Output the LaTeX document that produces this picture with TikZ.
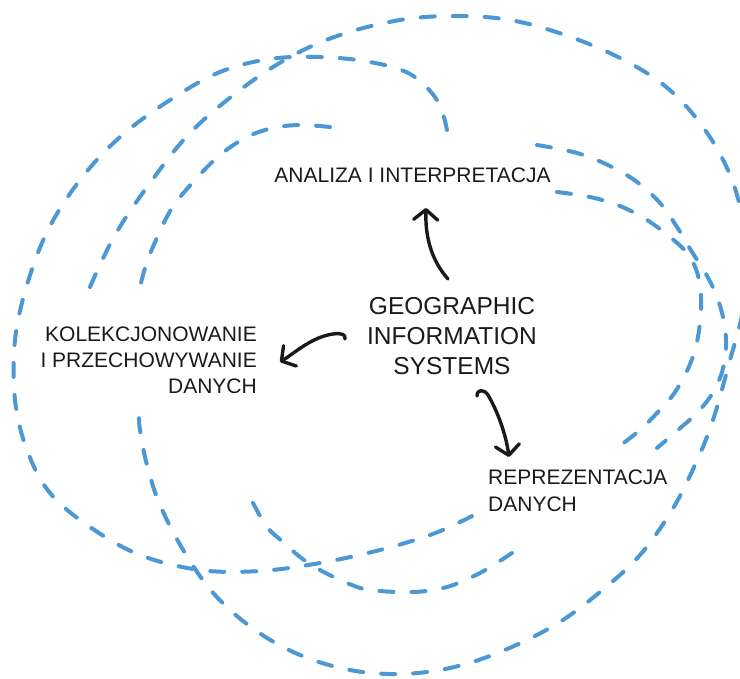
\documentclass[tikz,border=0pt]{standalone}
\usepackage{fontspec}
\setmainfont{Liberation Sans}
\usetikzlibrary{arrows.meta}
\definecolor{loopblue}{RGB}{76,152,212}
\definecolor{ink}{RGB}{26,26,26}
\begin{document}
\begin{tikzpicture}[x=1pt,y=-1pt,
  loopline/.style={draw=loopblue, line width=4pt, dash pattern=on 14pt off 18pt, line cap=round},
  lbl/.style={inner sep=0pt, text=ink, font=\fontsize{21}{26}\selectfont},
  conn/.style={draw=ink, line width=3.4pt, line cap=round, line join=round,
    -{Straight Barb[length=10pt,width=24pt,line cap=round,line join=round]}}]
\useasboundingbox (0,0) rectangle (740,679);
\begin{scope}
\clip (0,0) rectangle (740,679);
% big loop, top-left start, clockwise to lower left
\draw[loopline] plot[smooth, tension=0.6] coordinates {(90,287) (115,235) (150,183) (190,133) (240,90) (290,57) (340,35) (400,20) (455,16) (510,20) (565,35) (620,58) (665,86) (700,123) (727,168) (742,215) (747,265) (742,315) (730,360) (713,420) (695,465) (672,510) (640,555) (600,592) (555,625) (500,652) (450,668) (400,674) (350,670) (300,655) (255,630) (215,595) (185,553) (160,505) (147,465) (140,430) (139,416)};
% outer left loop
\draw[loopline] plot[smooth, tension=0.6] coordinates {(447,130) (437,100) (410,74) (370,62) (320,57) (270,59) (220,72) (170,100) (120,137) (80,180) (48,230) (27,285) (15,340) (15,400) (27,450) (50,493) (90,527) (140,555) (200,570) (260,571) (320,563) (380,550) (430,535) (460,522) (472,516)};
% short top-left arc
\draw[loopline] plot[smooth, tension=0.6] coordinates {(330,127) (300,125) (273,128) (247,137) (220,155) (195,180) (172,208) (156,240) (146,265) (140,287)};
% right arcs
\draw[loopline] plot[smooth, tension=0.6] coordinates {(537,145) (577,153) (610,166) (637,182) (660,203) (677,227) (692,252) (706,274) (717,297) (724,322) (726,347) (722,372) (712,394) (697,413) (678,430) (657,448)};
\draw[loopline] plot[smooth, tension=0.6] coordinates {(557,192) (590,197) (620,206) (647,220) (670,237) (687,253) (697,272) (701,297) (700,323) (695,350) (686,373) (673,395) (657,413) (640,430) (617,448)};
% short bottom arc
\draw[loopline] plot[smooth, tension=0.6] coordinates {(253,503) (267,527) (283,542) (300,557) (320,570) (347,583) (370,590) (413,592) (447,587) (480,573) (512,553)};
\end{scope}

\node[lbl, anchor=north] (ana) at (412.5,168) {ANALIZA I INTERPRETACJA};
\node[lbl, anchor=north east, align=right] (kol) at (257,327) {KOLEKCJONOWANIE\\I PRZECHOWYWANIE\\DANYCH};
\node[lbl, anchor=north, align=center, font=\fontsize{24.5}{30}\selectfont] (gis) at (452,297) {GEOGRAPHIC\\INFORMATION\\SYSTEMS};
\node[lbl, anchor=north west, align=left, font=\fontsize{21}{27}\selectfont] (rep) at (488,470) {REPREZENTACJA\\DANYCH};

\coordinate (gisUp) at (448,279);
\coordinate (anaIn) at (426,208);
\coordinate (gisLeft) at (345,339);
\coordinate (kolIn) at (280,362);
\coordinate (gisDown) at (477,396);
\coordinate (repIn) at (509,457);

\draw[conn] (gisUp) .. controls (433,262) and (425,240) .. (anaIn);
\draw[conn] (gisLeft) .. controls (346,334) and (341,333) .. (333,334) .. controls (312,337) and (296,352) .. (kolIn);
\draw[conn] (gisDown) .. controls (477,389) and (484,389) .. (488,395) .. controls (498,412) and (506,435) .. (repIn);
\end{tikzpicture}
\end{document}
